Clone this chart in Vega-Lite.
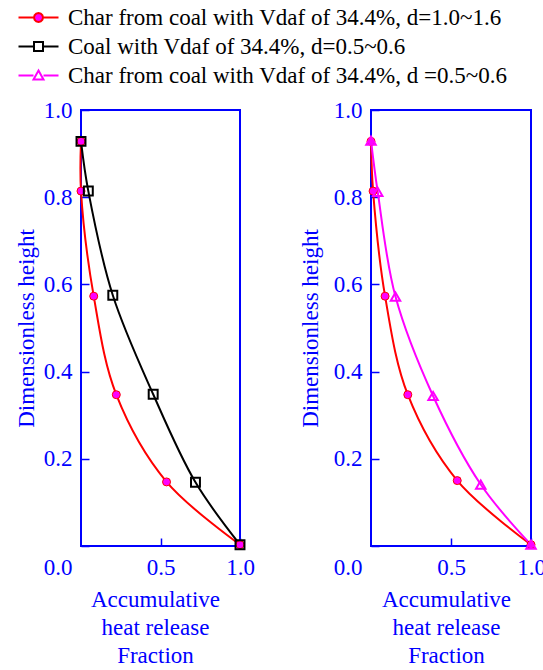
{
  "$schema": "https://vega.github.io/schema/vega-lite/v6.json",
  "padding": {"left": 14, "top": 6, "right": 5, "bottom": 2},
  "background": "white",
  "config": {
    "view": {"stroke": "#0000ff", "strokeWidth": 2},
    "font": "Liberation Serif",
    "axis": {
      "labelFont": "Liberation Serif", "titleFont": "Liberation Serif",
      "labelFontSize": 23, "titleFontSize": 23,
      "labelColor": "#0000ff", "titleColor": "#0000ff", "tickColor": "#0000ff",
      "tickWidth": 1.5, "tickSize": -8, "domain": false, "grid": false,
      "titleFontWeight": "normal", "labelFlush": false
    },
    "legend": {"orient": "none", "legendX": -54, "legendY": -104, "direction": "vertical", "title": null, "symbolSize": 400, "symbolStrokeWidth": 2, "symbolOpacity": 1, "labelFont": "Liberation Serif", "labelFontSize": 23, "labelColor": "#000000", "labelLimit": 0, "labelOffset": 18, "rowPadding": 5, "padding": 0}
  },
  "datasets": {
    "d": [
      {"p": "L", "s": "A", "i": 0, "x": 0, "y": 0.928},
      {"p": "L", "s": "A", "i": 1, "x": 0, "y": 0.814},
      {"p": "L", "s": "A", "i": 2, "x": 0.08, "y": 0.573},
      {"p": "L", "s": "A", "i": 3, "x": 0.222, "y": 0.347},
      {"p": "L", "s": "A", "i": 4, "x": 0.538, "y": 0.147},
      {"p": "L", "s": "A", "i": 5, "x": 1.0, "y": 0.003},
      {"p": "L", "s": "B", "i": 0, "x": 0, "y": 0.928},
      {"p": "L", "s": "B", "i": 1, "x": 0.046, "y": 0.814},
      {"p": "L", "s": "B", "i": 2, "x": 0.2, "y": 0.575},
      {"p": "L", "s": "B", "i": 3, "x": 0.454, "y": 0.348},
      {"p": "L", "s": "B", "i": 4, "x": 0.72, "y": 0.146},
      {"p": "L", "s": "B", "i": 5, "x": 1.0, "y": 0.003},
      {"p": "R", "s": "A", "i": 0, "x": 0, "y": 0.928},
      {"p": "R", "s": "A", "i": 1, "x": 0.013, "y": 0.814},
      {"p": "R", "s": "A", "i": 2, "x": 0.088, "y": 0.573},
      {"p": "R", "s": "A", "i": 3, "x": 0.23, "y": 0.347},
      {"p": "R", "s": "A", "i": 4, "x": 0.539, "y": 0.15},
      {"p": "R", "s": "A", "i": 5, "x": 1.0, "y": 0.003},
      {"p": "R", "s": "C", "i": 0, "x": 0, "y": 0.93},
      {"p": "R", "s": "C", "i": 1, "x": 0.042, "y": 0.812},
      {"p": "R", "s": "C", "i": 2, "x": 0.153, "y": 0.572},
      {"p": "R", "s": "C", "i": 3, "x": 0.388, "y": 0.344},
      {"p": "R", "s": "C", "i": 4, "x": 0.686, "y": 0.141},
      {"p": "R", "s": "C", "i": 5, "x": 1.0, "y": 0.003}
    ]
  },
  "data": {"name": "d"},
  "hconcat": [
    {
      "width": 159, "height": 436,
      "transform": [{"filter": "datum.p == 'L'"}],
      "encoding": {
        "x": {"field": "x", "type": "quantitative", "scale": {"domain": [0, 1]},
              "axis": {"values": [0.5, 1.0], "format": ".1f", "labelPadding": 18, "title": ["Accumulative", "heat release", "Fraction"], "titleLineHeight": 28, "titlePadding": 9, "titleX": 74}},
        "y": {"field": "y", "type": "quantitative", "scale": {"domain": [0, 1]},
              "axis": {"values": [0, 0.2, 0.4, 0.6, 0.8, 1.0], "format": ".1f", "labelPadding": 17, "labelOffset": {"condition": {"test": "datum.value == 0", "value": 21}, "value": 0}, "title": "Dimensionless height", "titlePadding": 5}}
      },
      "layer": [
        {"transform": [{"filter": "datum.s == 'A'"}], "mark": {"type": "line", "interpolate": "catmull-rom", "strokeWidth": 2, "color": "#ff0000"},
         "encoding": {"order": {"field": "i"}}},
        {"transform": [{"filter": "datum.s == 'B'"}], "mark": {"type": "line", "interpolate": "catmull-rom", "strokeWidth": 2, "color": "#000000"},
         "encoding": {"order": {"field": "i"}}},
        {"transform": [{"filter": "datum.s == 'A'"}], "mark": {"type": "point", "shape": "circle", "filled": true, "fill": "#ff00ff", "stroke": "#ff0000", "strokeWidth": 1, "size": 64, "opacity": 1}},
        {"transform": [{"filter": "datum.s == 'B'"}], "mark": {"type": "point", "shape": "square", "filled": false, "stroke": "#000000", "strokeWidth": 2, "size": 80, "opacity": 1}},
        {"transform": [{"filter": "datum.i == 0"}],
         "mark": {"type": "point", "size": 400, "strokeOpacity": 0, "fillOpacity": 0},
         "encoding": {
           "stroke": {"field": "s", "type": "nominal", "scale": {"domain": ["A", "B", "C"], "range": ["#ff0000", "#000000", "#ff00ff"]},
             "legend": {"symbolOpacity": 1,
               "labelExpr": "datum.value == 'A' ? 'Char from coal with Vdaf of 34.4%, d=1.0~1.6' : datum.value == 'B' ? 'Coal with Vdaf of 34.4%, d=0.5~0.6' : 'Char from coal with Vdaf of 34.4%, d =0.5~0.6'"}},
           "fill": {"field": "s", "type": "nominal", "scale": {"domain": ["A", "B", "C"], "range": ["#ff00ff", "#ffffff", "#ffffff"]},
             "legend": {"symbolOpacity": 1,
               "labelExpr": "datum.value == 'A' ? 'Char from coal with Vdaf of 34.4%, d=1.0~1.6' : datum.value == 'B' ? 'Coal with Vdaf of 34.4%, d=0.5~0.6' : 'Char from coal with Vdaf of 34.4%, d =0.5~0.6'"}},
           "shape": {"field": "s", "type": "nominal", "scale": {"domain": ["A", "B", "C"], "range": ["M-2,0H-0.45M0.45,0H2M0.45,0L0.39,0.225L0.225,0.39L0,0.45L-0.225,0.39L-0.39,0.225L-0.45,0L-0.39,-0.225L-0.225,-0.39L0,-0.45L0.225,-0.39L0.39,-0.225Z", "M-2,0H-0.45M0.45,0H2M-0.45,-0.45H0.45V0.45H-0.45Z", "M-2,0H-0.5M0.5,0H2M0,-0.5L0.5,0.4H-0.5Z"]},
             "legend": {"symbolOpacity": 1,
               "labelExpr": "datum.value == 'A' ? 'Char from coal with Vdaf of 34.4%, d=1.0~1.6' : datum.value == 'B' ? 'Coal with Vdaf of 34.4%, d=0.5~0.6' : 'Char from coal with Vdaf of 34.4%, d =0.5~0.6'"}}
         }}
      ]
    },
    {
      "width": 160, "height": 436,
      "transform": [{"filter": "datum.p == 'R'"}],
      "encoding": {
        "x": {"field": "x", "type": "quantitative", "scale": {"domain": [0, 1]},
              "axis": {"values": [0.5, 1.0], "format": ".1f", "labelPadding": 18, "title": ["Accumulative", "heat release", "Fraction"], "titleLineHeight": 28, "titlePadding": 9, "titleX": 75}},
        "y": {"field": "y", "type": "quantitative", "scale": {"domain": [0, 1]},
              "axis": {"values": [0, 0.2, 0.4, 0.6, 0.8, 1.0], "format": ".1f", "labelPadding": 17, "labelOffset": {"condition": {"test": "datum.value == 0", "value": 21}, "value": 0}, "title": "Dimensionless height", "titlePadding": 11}}
      },
      "layer": [
        {"transform": [{"filter": "datum.s == 'A'"}], "mark": {"type": "line", "interpolate": "catmull-rom", "strokeWidth": 2, "color": "#ff0000"},
         "encoding": {"order": {"field": "i"}}},
        {"transform": [{"filter": "datum.s == 'C'"}], "mark": {"type": "line", "interpolate": "catmull-rom", "strokeWidth": 2, "color": "#ff00ff"},
         "encoding": {"order": {"field": "i"}}},
        {"transform": [{"filter": "datum.s == 'A'"}], "mark": {"type": "point", "shape": "circle", "filled": true, "fill": "#ff00ff", "stroke": "#ff0000", "strokeWidth": 1, "size": 64, "opacity": 1}},
        {"transform": [{"filter": "datum.s == 'C'"}], "mark": {"type": "point", "shape": "triangle-up", "filled": false, "stroke": "#ff00ff", "strokeWidth": 2, "size": 90, "opacity": 1}}
      ]
    }
  ],
  "spacing": 42
}
